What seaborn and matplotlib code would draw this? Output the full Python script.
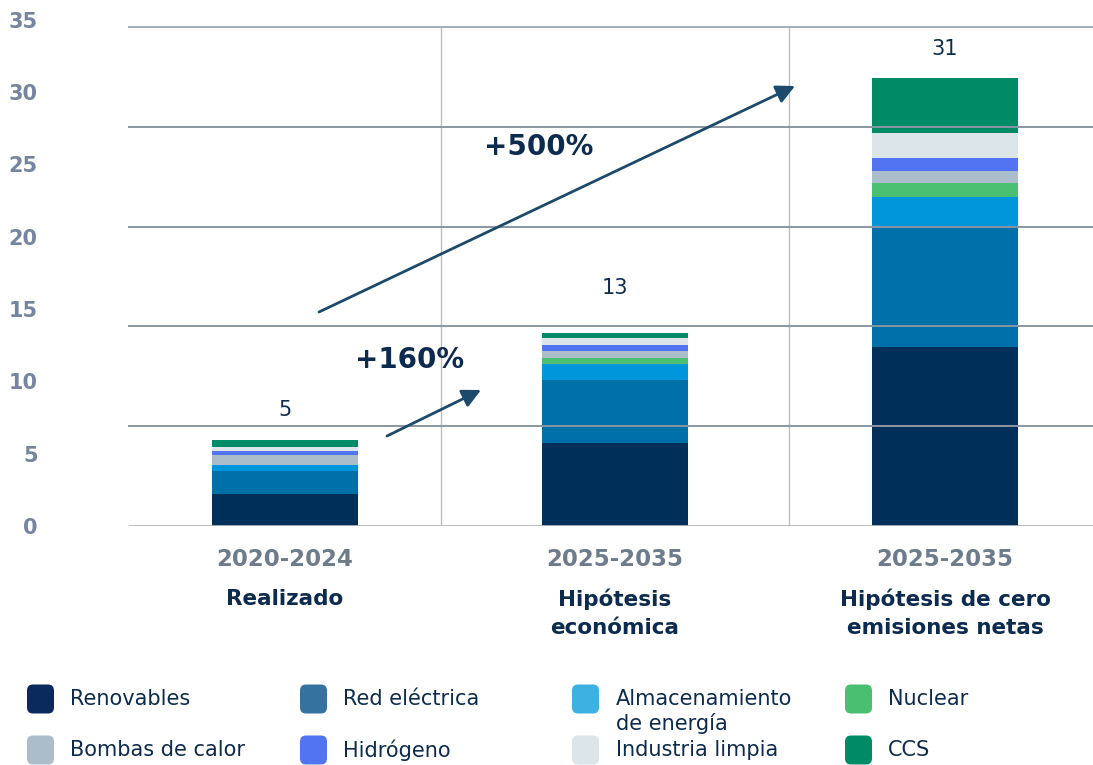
import matplotlib
matplotlib.use("Agg")
import matplotlib.pyplot as plt
import seaborn as sns
import numpy as np
import pandas as pd
from matplotlib.patches import FancyBboxPatch

# ---------------- data ----------------
categories = ["Realizado", "Hipótesis económica", "Hipótesis de cero emisiones netas"]
period_labels = ["2020-2024", "2025-2035", "2025-2035"]
scenario_labels = ["Realizado", "Hipótesis\neconómica", "Hipótesis de cero\nemisiones netas"]
total_labels = ["5", "13", "31"]

series_names = ["Renovables", "Red eléctrica", "Almacenamiento\nde energía", "Nuclear",
                "Bombas de calor", "Hidrógeno", "Industria limpia", "CCS"]
renovables = [2.2, 5.73, 12.35]
red_electrica = [1.59, 4.35, 8.35]
almacenamiento = [0.41, 1.10, 2.07]
nuclear = [0.0, 0.41, 0.97]
bombas_calor = [0.69, 0.48, 0.83]
hidrogeno = [0.28, 0.41, 0.83]
industria_limpia = [0.28, 0.48, 1.73]
ccs = [0.48, 0.41, 3.86]
series_values = [renovables, red_electrica, almacenamiento, nuclear,
                 bombas_calor, hidrogeno, industria_limpia, ccs]

y_ticks = [0, 5, 10, 15, 20, 25, 30, 35]
grid_step = 6.9
arrow_labels = ["+160%", "+500%"]

# ---------------- styles ----------------
bar_colors = ["#00305a", "#0070a8", "#0096db", "#4bbf72",
              "#abbccb", "#5274f2", "#dbe5ea", "#008b67"]
legend_colors = ["#0a2a5e", "#3572a0", "#3cb2e2", "#4abf72",
                 "#abbccb", "#5274f2", "#dbe5ea", "#008b67"]
navy = "#0d2b4e"
tick_gray = "#7585a0"
period_gray = "#6e7b8b"
arrow_color = "#1d4a6b"

sns.set_style("white")
plt.rcParams["font.family"] = ["DejaVu Sans"]

W, H = 1093, 765
fig = plt.figure(figsize=(W / 100, H / 100), dpi=100)
ax_left, ax_right, ax_bottom, ax_top = 128, 1093, 526, 19.6
ax = fig.add_axes([ax_left / W, (H - ax_bottom) / H, (ax_right - ax_left) / W,
                   (ax_bottom - ax_top) / H])

df = pd.DataFrame({"cat": categories})
cum = np.cumsum(np.array(series_values), axis=0)
bar_w = 146 / 330
for i in range(len(series_values) - 1, -1, -1):
    df["v"] = cum[i]
    sns.barplot(data=df, x="cat", y="v", order=categories, color=bar_colors[i],
                saturation=1, width=bar_w, errorbar=None, linewidth=0, ax=ax, zorder=2)

xmin, xmax = -157 / 330, (1093 - 285) / 330
ax.set_xlim(xmin, xmax)
ax.set_ylim(0, 35)
for s in ax.spines.values():
    s.set_visible(False)
ax.set_xlabel("")
ax.set_ylabel("")
ax.set_xticks([])

# grid
grid_vals = [grid_step * k for k in range(1, 6)]
ax.hlines(grid_vals[:-1], xmin, xmax, colors="#8a96a2", lw=1.4, zorder=3)
ax.hlines(grid_vals[-1:], xmin, xmax, colors="#a4acb4", lw=1.4, zorder=3)
ax.hlines([0], xmin, xmax, colors="#b4b8bc", lw=2, zorder=3)
ax.vlines([0.473, 1.527], 0, grid_vals[-1], colors="#bdbdbd", lw=1, zorder=1)

# y ticks
ax.set_yticks(y_ticks)
ax.set_yticklabels([str(t) for t in y_ticks], fontsize=15, fontweight="bold", color=tick_gray)
ax.tick_params(axis="y", length=0, pad=65)

# x labels
for i in range(3):
    ax.annotate(period_labels[i], xy=(i, 0), xycoords=("data", "axes fraction"),
                xytext=(0, -34), textcoords="offset pixels", ha="center", va="center",
                fontsize=16.5, fontweight="bold", color=period_gray)
    ax.annotate(scenario_labels[i], xy=(i, 0), xycoords=("data", "axes fraction"),
                xytext=(0, -63), textcoords="offset pixels", ha="center", va="top",
                fontsize=15.5, fontweight="bold", color=navy, linespacing=1.45)

# totals
totals = cum[-1]
offsets = [30, 45, 29]
for i in range(3):
    ax.annotate(total_labels[i], xy=(i, totals[i]), xytext=(0, offsets[i]),
                textcoords="offset pixels", ha="center", va="center",
                fontsize=15, color=navy)

# arrows
def px(x, y):
    return ((x - 285) / 330, (526 - y) / (506.4 / 35))

ax.annotate("", xy=px(481, 390), xytext=px(387, 436),
            arrowprops=dict(arrowstyle="-|>", color=arrow_color, lw=2,
                            mutation_scale=28, shrinkA=0, shrinkB=0), zorder=5)
ax.annotate("", xy=px(795, 86), xytext=px(319, 312),
            arrowprops=dict(arrowstyle="-|>", color=arrow_color, lw=2,
                            mutation_scale=28, shrinkA=0, shrinkB=0), zorder=5)
ax.text(*px(410, 360), arrow_labels[0], ha="center", va="center",
        fontsize=20, fontweight="bold", color=navy, zorder=5)
ax.text(*px(539, 147), arrow_labels[1], ha="center", va="center",
        fontsize=20, fontweight="bold", color=navy, zorder=5)

# legend
patch_x = [27, 300, 572, 845]
text_x = [70, 343, 616, 888]
row_y = [699, 750]
for k, name in enumerate(series_names):
    r, c = divmod(k, 4)
    cy = row_y[r]
    p = FancyBboxPatch(((patch_x[c] + 3) / 100, (H - cy - 11.5) / 100), 21 / 100, 23 / 100,
                       boxstyle="round,pad=0.03,rounding_size=0.06",
                       transform=fig.dpi_scale_trans, facecolor=legend_colors[k],
                       edgecolor="none")
    fig.add_artist(p)
    fig.text(text_x[c] / W, (H - cy) / H, name.split("\n")[0], ha="left", va="center",
             fontsize=15, color=navy)
    if "\n" in name:
        fig.text(text_x[c] / W, (H - cy - 25) / H, name.split("\n")[1], ha="left",
                 va="center", fontsize=15, color=navy)

fig.savefig("out.png", dpi=100)
